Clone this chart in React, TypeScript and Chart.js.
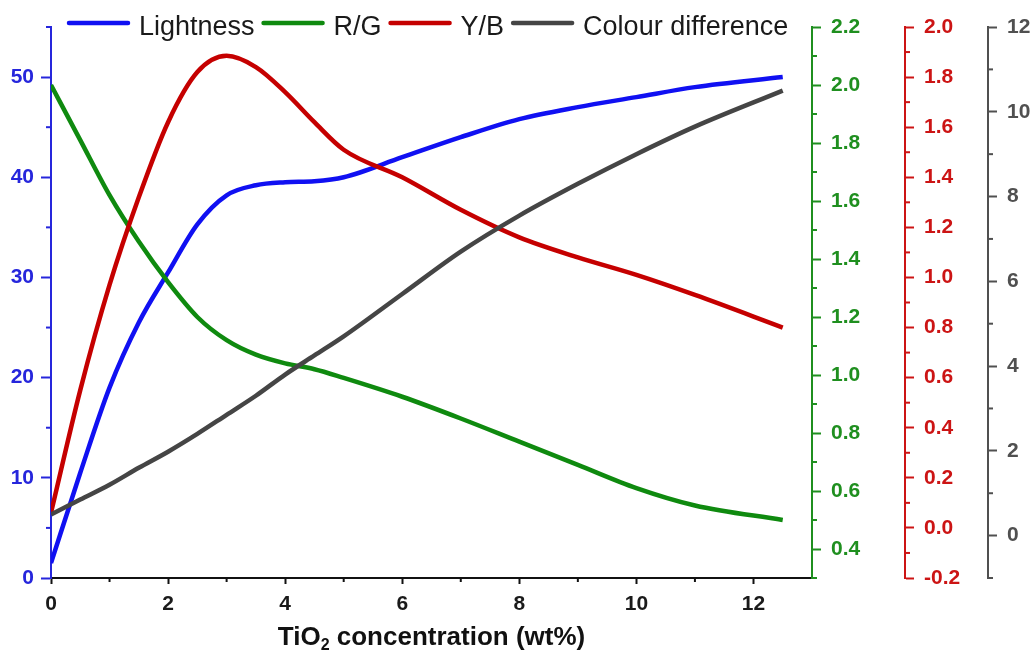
import React, { useEffect, useRef } from "react";
import { Chart, registerables } from "chart.js";

Chart.register(...registerables);

// ---- data ----
const xValues = [0, 0.5, 1, 1.5, 2, 2.5, 3, 3.5, 4, 4.5, 5, 6, 7, 8, 9, 10, 11, 12.5];
const lightness = [1.5, 10.5, 19, 25.5, 30.5, 35.3, 38.2, 39.2, 39.5, 39.6, 40.0, 42.0, 44.0, 45.8, 47.0, 48.0, 49.0, 50.0];
const redGreen = [2.0, 1.81, 1.62, 1.46, 1.32, 1.2, 1.12, 1.07, 1.04, 1.02, 0.99, 0.925, 0.85, 0.77, 0.69, 0.61, 0.55, 0.5];
const yellowBlue = [0.06, 0.55, 0.97, 1.32, 1.62, 1.82, 1.885, 1.84, 1.74, 1.62, 1.51, 1.4, 1.27, 1.16, 1.08, 1.01, 0.93, 0.8];
const colourDiff = [0.5, 0.85, 1.2, 1.6, 1.98, 2.4, 2.85, 3.3, 3.8, 4.25, 4.7, 5.7, 6.7, 7.55, 8.3, 9.0, 9.65, 10.5];

const seriesLabels = ["Lightness", "R/G", "Y/B", "Colour difference"];
const xTitleParts = ["TiO", "2", " concentration (wt%)"];

const xMinorTicks = [1, 3, 5, 7, 9, 11];
const lMinorTicks = [5, 15, 25, 35, 45, 55];
const rgMinorTicks = [0.3, 0.5, 0.7, 0.9, 1.1, 1.3, 1.5, 1.7, 1.9, 2.1];
const ybMinorTicks = [-0.1, 0.1, 0.3, 0.5, 0.7, 0.9, 1.1, 1.3, 1.5, 1.7, 1.9];
const cdMinorTicks = [-1, 1, 3, 5, 7, 9, 11];

const FONT = '"Liberation Sans", Arial, Helvetica, sans-serif';

const C_BLUE = "#1010f2";
const C_GREEN = "#0f8a0f";
const C_RED = "#c50000";
const C_GRAY = "#454545";

const AX_BLUE = "#2626dc";
const AX_GREEN = "#1f8f1f";
const AX_RED = "#cc1414";
const AX_GRAY = "#505050";

const pts = (ys: number[]) => xValues.map((x, i) => ({ x, y: ys[i] }));

const minorPlugin = {
  id: "minorTicks",
  afterDraw(chart: any) {
    const ctx = chart.ctx;
    const defs: [string, number[], string, number][] = [
      ["x", xMinorTicks, "#111111", 4],
      ["yL", lMinorTicks, AX_BLUE, 5],
      ["yRG", rgMinorTicks, AX_GREEN, 5],
      ["yYB", ybMinorTicks, AX_RED, 5],
      ["yCD", cdMinorTicks, AX_GRAY, 5],
    ];
    ctx.save();
    ctx.lineWidth = 2;
    defs.forEach(([id, vals, col, len]) => {
      const s = chart.scales[id];
      if (!s) return;
      ctx.strokeStyle = col;
      vals.forEach((v) => {
        const p = s.getPixelForValue(v);
        ctx.beginPath();
        if (id === "x") {
          ctx.moveTo(p, s.top);
          ctx.lineTo(p, s.top + len);
        } else if (s.position === "left") {
          ctx.moveTo(s.right, p);
          ctx.lineTo(s.right - len, p);
        } else {
          ctx.moveTo(s.left, p);
          ctx.lineTo(s.left + len, p);
        }
        ctx.stroke();
      });
    });
    ctx.restore();
  },
};

const legendPlugin = {
  id: "customLegend",
  afterDraw(chart: any) {
    const ctx = chart.ctx;
    ctx.save();
    ctx.font = `27px ${FONT}`;
    ctx.textBaseline = "alphabetic";
    ctx.textAlign = "left";
    let x = chart.chartArea.left + 16;
    const yLine = 23;
    const yText = 35;
    chart.data.datasets.forEach((ds: any) => {
      ctx.strokeStyle = ds.borderColor;
      ctx.lineWidth = 4.5;
      ctx.lineCap = "round";
      ctx.beginPath();
      ctx.moveTo(x + 2, yLine);
      ctx.lineTo(x + 61, yLine);
      ctx.stroke();
      x += 63 + 9;
      ctx.fillStyle = "#1a1a1a";
      ctx.fillText(ds.label, x, yText);
      x += ctx.measureText(ds.label).width + 7;
    });
    ctx.restore();
  },
};

const titlePlugin = {
  id: "xTitle",
  afterDraw(chart: any) {
    const ctx = chart.ctx;
    const ca = chart.chartArea;
    ctx.save();
    ctx.fillStyle = "#111111";
    ctx.textBaseline = "alphabetic";
    ctx.textAlign = "left";
    const big = `bold 26px ${FONT}`;
    const small = `bold 16px ${FONT}`;
    ctx.font = big;
    const w0 = ctx.measureText(xTitleParts[0]).width;
    const w2 = ctx.measureText(xTitleParts[2]).width;
    ctx.font = small;
    const w1 = ctx.measureText(xTitleParts[1]).width;
    const total = w0 + w1 + w2;
    let x = (ca.left + ca.right) / 2 - total / 2;
    const base = 645;
    ctx.font = big;
    ctx.fillText(xTitleParts[0], x, base);
    x += w0;
    ctx.font = small;
    ctx.fillText(xTitleParts[1], x, base + 5);
    x += w1;
    ctx.font = big;
    ctx.fillText(xTitleParts[2], x, base);
    ctx.restore();
  },
};

function yAxis(
  position: "left" | "right",
  min: number,
  max: number,
  step: number,
  color: string,
  width: number,
  decimals: number,
  tickLen: number,
  pad: number
) {
  return {
    type: "linear",
    position,
    min,
    max,
    afterFit: (s: any) => {
      s.width = width;
    },
    border: { display: true, color, width: 2 },
    grid: {
      display: true,
      drawOnChartArea: false,
      drawTicks: true,
      tickLength: tickLen,
      tickColor: color,
      tickWidth: 2,
      color,
    },
    ticks: {
      stepSize: step,
      includeBounds: false,
      color,
      padding: pad,
      font: { family: FONT, size: 21, weight: "bold" },
      callback: (v: any) => Number(v).toFixed(decimals),
    },
  };
}

export default function App() {
  const ref = useRef<HTMLCanvasElement | null>(null);

  useEffect(() => {
    if (!ref.current) return;
    const chart = new Chart(ref.current, {
      type: "line",
      data: {
        datasets: [
          {
            label: seriesLabels[0],
            data: pts(lightness),
            yAxisID: "yL",
            borderColor: C_BLUE,
            backgroundColor: C_BLUE,
            order: 4,
          },
          {
            label: seriesLabels[1],
            data: pts(redGreen),
            yAxisID: "yRG",
            borderColor: C_GREEN,
            backgroundColor: C_GREEN,
            order: 3,
          },
          {
            label: seriesLabels[2],
            data: pts(yellowBlue),
            yAxisID: "yYB",
            borderColor: C_RED,
            backgroundColor: C_RED,
            order: 2,
          },
          {
            label: seriesLabels[3],
            data: pts(colourDiff),
            yAxisID: "yCD",
            borderColor: C_GRAY,
            backgroundColor: C_GRAY,
            order: 1,
          },
        ].map((d) => ({
          ...d,
          borderWidth: 4.5,
          pointRadius: 0,
          pointHoverRadius: 0,
          cubicInterpolationMode: "monotone",
          fill: false,
        })),
      },
      options: {
        responsive: false,
        animation: false,
        events: [],
        layout: { padding: { top: 27, left: 0, right: 0, bottom: 0 } },
        plugins: {
          legend: { display: false },
          tooltip: { enabled: false },
          title: { display: false },
        },
        scales: {
          x: {
            type: "linear",
            position: "bottom",
            min: 0,
            max: 13,
            afterFit: (s: any) => {
              s.height = 74;
            },
            border: { display: true, color: "#111111", width: 2 },
            grid: {
              display: true,
              drawOnChartArea: false,
              drawTicks: true,
              tickLength: 6,
              tickColor: "#111111",
              tickWidth: 2,
            },
            ticks: {
              stepSize: 2,
              includeBounds: false,
              color: "#1a1a1a",
              padding: 8,
              maxRotation: 0,
              font: { family: FONT, size: 21, weight: "bold" },
            },
          },
          yL: yAxis("left", 0, 55, 10, AX_BLUE, 51, 0, 10, 7),
          yRG: yAxis("right", 0.3, 2.2, 0.2, AX_GREEN, 93, 1, 9, 10),
          yYB: yAxis("right", -0.2, 2.0, 0.2, AX_RED, 83, 1, 9, 10),
          yCD: yAxis("right", -1, 12, 2, AX_GRAY, 45, 0, 9, 10),
        },
      } as any,
      plugins: [minorPlugin, legendPlugin, titlePlugin],
    });
    return () => chart.destroy();
  }, []);

  return (
    <div
      style={{
        position: "fixed",
        left: 0,
        top: 0,
        width: 1033,
        height: 652,
        background: "#ffffff",
      }}
    >
      <canvas ref={ref} width={1033} height={652} style={{ display: "block" }} />
    </div>
  );
}
